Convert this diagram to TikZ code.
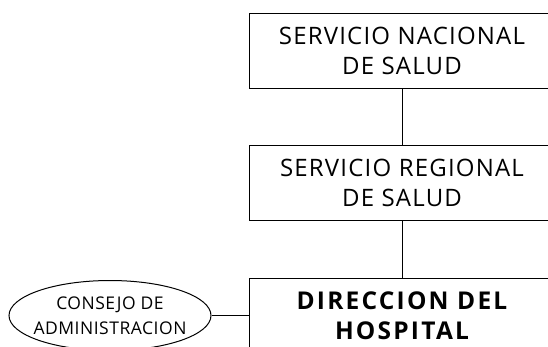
\documentclass[tikz,border=0pt]{standalone}
\usepackage{fontspec}
\setmainfont{Open Sans}
\usepackage{tikz}
\usetikzlibrary{positioning,shapes.geometric}

\begin{document}
\begin{tikzpicture}[x=1pt,y=-1pt,line width=1pt,node distance=56pt]
\tikzstyle{every node}=[text=black]
\tikzset{unidad/.style={draw=black,rectangle,align=center,minimum width=306pt,minimum height=75pt,inner sep=0pt,font=\fontsize{24}{30}\selectfont\addfontfeature{LetterSpace=5}}}
\tikzset{consejo/.style={draw=black,ellipse,align=center,minimum width=202pt,minimum height=70pt,inner xsep=-9pt,inner ysep=0pt,font=\fontsize{17.5}{25}\selectfont\addfontfeature{LetterSpace=3}}}

  \useasboundingbox (0,0) rectangle (548,346);
  \clip (0,0) rectangle (548,346);

        \node[unidad]                  (nacional)                        at (402,50.5)  {SERVICIO NACIONAL\\DE SALUD};
        \node[unidad]                  (regional)  [below=of nacional]                  {SERVICIO REGIONAL\\DE SALUD};
        \node[unidad, font=\fontsize{24.5}{30}\selectfont\bfseries\addfontfeature{LetterSpace=9}]
                                       (direccion) [below=57pt of regional]             {DIRECCION DEL\\HOSPITAL};
        \node[consejo]                 (admin)     [left=37pt of direccion]             {CONSEJO DE\\ADMINISTRACION};

        \path[draw]
        (nacional)  edge  (regional)
        (regional)  edge  (direccion)
        (admin)     edge  (direccion)
        ; %end path

\end{tikzpicture}
\end{document}
